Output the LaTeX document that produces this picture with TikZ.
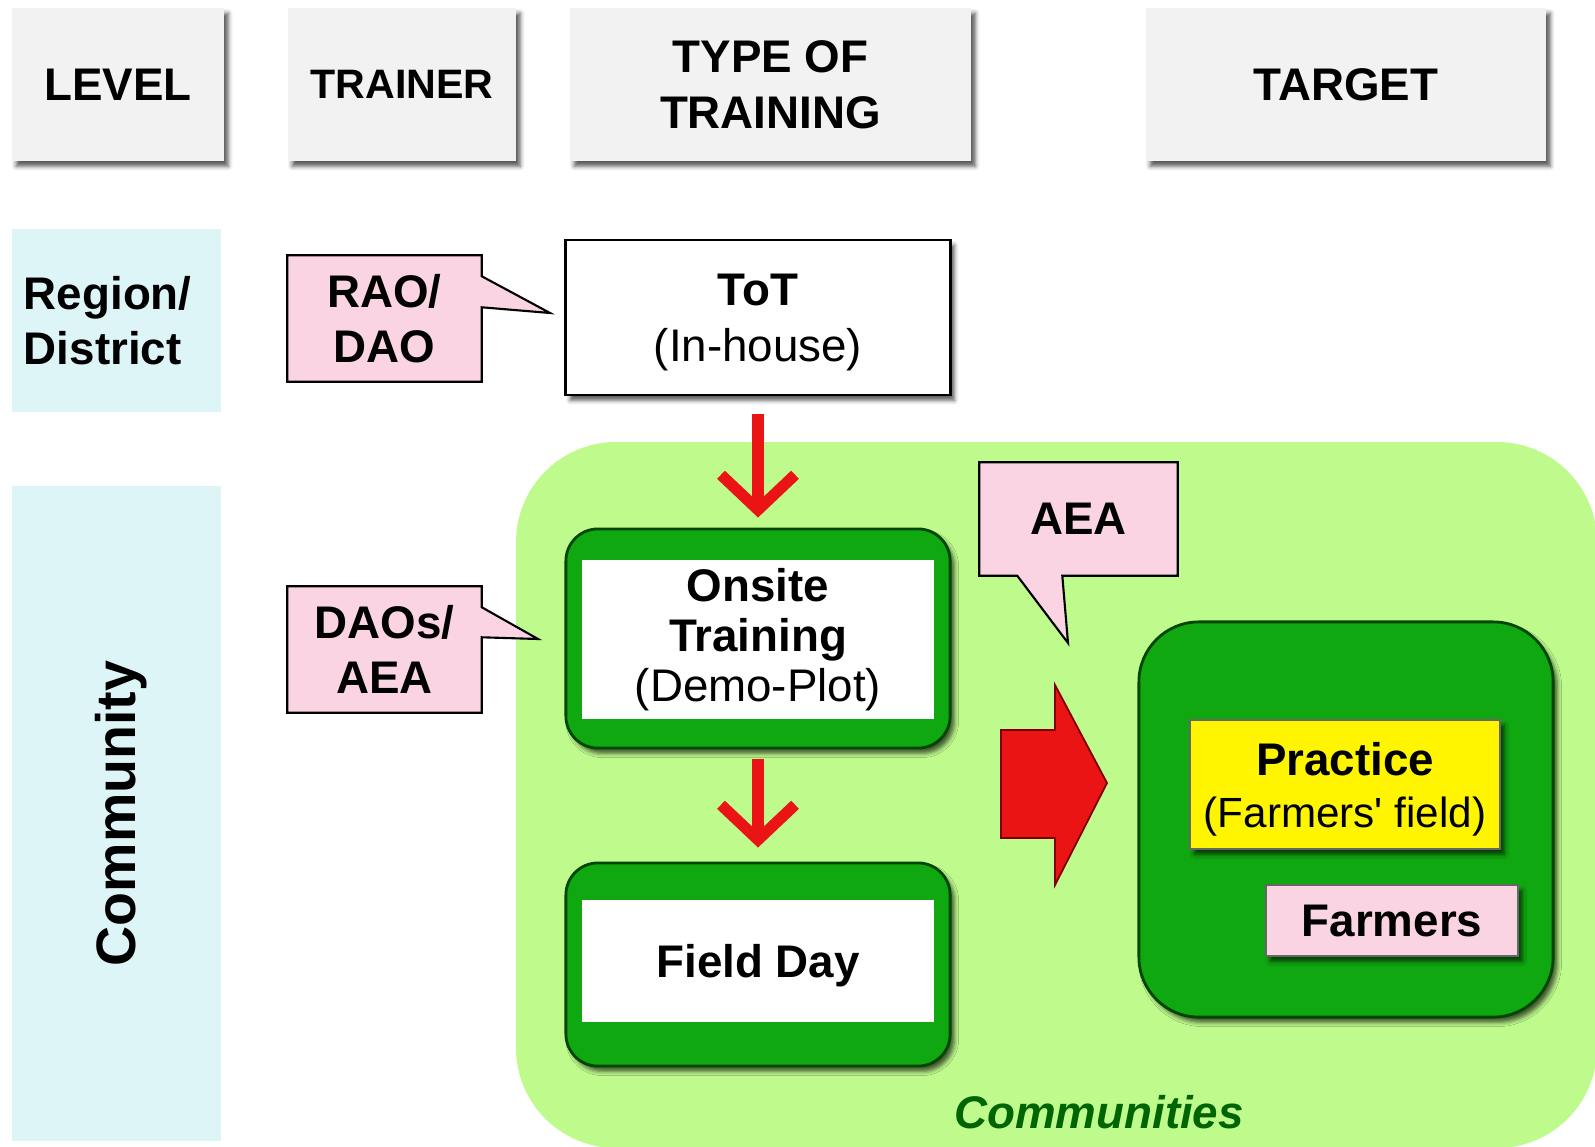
\documentclass[tikz,border=0pt]{standalone}
\usepackage{fontspec}
\setmainfont{Liberation Sans}
\usetikzlibrary{arrows.meta,shadows.blur,backgrounds}

\definecolor{headgray}{RGB}{242,242,242}
\definecolor{levelcyan}{RGB}{222,245,248}
\definecolor{calloutpink}{RGB}{250,212,226}
\definecolor{fieldgreen}{RGB}{190,250,140}
\definecolor{boxgreen}{RGB}{16,168,16}
\definecolor{edgegreen}{RGB}{0,70,0}
\definecolor{textgreen}{RGB}{0,100,0}
\definecolor{practiceyellow}{RGB}{255,245,0}
\definecolor{arrowred}{RGB}{235,20,20}

\tikzset{
  every node/.style={font=\fontsize{13}{15.5}\selectfont\bfseries, inner sep=0pt, align=center},
  softshadow/.style={blur shadow={shadow xshift=1.2pt, shadow yshift=-1.5pt, shadow blur radius=1.2pt, shadow opacity=65}},
  header/.style={fill=headgray, softshadow},
  levelbox/.style={fill=levelcyan},
  calloutline/.style={fill=calloutpink, draw=black, line width=0.6pt, line join=miter},
  totbox/.style={draw, fill=white, line width=0.8pt, softshadow},
  greenbox/.style={fill=boxgreen, draw=edgegreen, line width=0.8pt, rounded corners=0.32cm, softshadow},
  innerbox/.style={fill=white},
  flowarrow/.style={arrowred, line width=3.2pt, -{Straight Barb[length=3.5mm,width=7.4mm]}},
}

\begin{document}
\begin{tikzpicture}[x=0.01cm, y=-0.01cm]
  \useasboundingbox (0,0) rectangle (1595,1146);

  % column headings
  \node[header, minimum width=2.12cm, minimum height=1.53cm] (levelhead) at (118,84.5) {LEVEL};
  \node[header, minimum width=2.28cm, minimum height=1.53cm, font=\fontsize{11.7}{14}\selectfont\bfseries] (trainerhead) at (402,84.5) {TRAINER};
  \node[header, minimum width=4.01cm, minimum height=1.53cm, font=\fontsize{13}{16}\selectfont\bfseries] (typehead) at (770.5,84.5) {TYPE OF\\TRAINING};
  \node[header, minimum width=4.00cm, minimum height=1.53cm] (targethead) at (1346,84.5) {TARGET};

  % levels
  \node[levelbox, minimum width=2.09cm, minimum height=1.83cm, text width=1.85cm, align=left] (region) at (116.5,320.5) {Region/\\District};
  \node[levelbox, minimum width=2.09cm, minimum height=6.55cm] (community) at (116.5,813.5) {};
  \node[rotate=90, font=\fontsize{15.8}{18}\selectfont\bfseries] (communitytext) at ([xshift=0.05cm]community.center) {Community};

  % trainers
  \node[minimum width=1.93cm, minimum height=1.25cm] (rao) at (384.5,318.5) {RAO/\\DAO};
  \coordinate (raotip) at (550,313);
  \node[minimum width=1.93cm, minimum height=1.25cm] (daos) at (384.5,649.5) {DAOs/\\AEA};
  \coordinate (daostip) at (538,639);
  \node[minimum width=1.97cm, minimum height=1.12cm] (aea) at (1078.5,519) {AEA};
  \coordinate (aeatip) at (1068,643);

  % trainings
  \node[totbox, minimum width=3.84cm, minimum height=1.55cm, text depth=0pt, font=\fontsize{13}{16}\selectfont\bfseries] (tot) at (758,317.5) {ToT\\{\mdseries (In-house)}};

  \node[greenbox, minimum width=3.84cm, minimum height=2.19cm] (onsite) at (758,638.5) {};
  \node[innerbox, minimum width=3.51cm, minimum height=1.59cm, font=\fontsize{13}{14.3}\selectfont\bfseries] (onsitetext) at (758,639.5) {Onsite\\Training\\{\mdseries (Demo-Plot)}};

  \node[greenbox, minimum width=3.84cm, minimum height=2.03cm] (fieldday) at (758,964.5) {};
  \node[innerbox, minimum width=3.51cm, minimum height=1.22cm, text depth=0pt] (fielddaytext) at (758,961) {Field Day};

  % target
  \node[greenbox, rounded corners=0.6cm, minimum width=4.14cm, minimum height=3.95cm] (practice) at (1346,819.5) {};
  \node[fill=practiceyellow, draw=black!60, line width=0.4pt, softshadow, minimum width=3.10cm, minimum height=1.29cm, text depth=0pt, font=\fontsize{13}{14.8}\selectfont\bfseries] (practicetext) at (1345,784.5) {Practice\\{\mdseries\fontsize{12}{14}\selectfont (Farmers\textquotesingle{} field)}};
  \node[fill=calloutpink, draw=black!60, line width=0.4pt, softshadow, minimum width=2.52cm, minimum height=0.71cm] (farmers) at (1392,920.5) {Farmers};

  \node[text=textgreen, font=\fontsize{13}{15}\selectfont\bfseries\itshape] (communities) at (1099,1112) {Communities};

  \filldraw[fill=arrowred, draw=red!50!black, line width=0.5pt, line join=miter]
    (1001,730) -- (1055,730) -- (1055,685) -- (1107,783) -- (1055,885) -- (1055,838) -- (1001,838) -- cycle;

  \draw[flowarrow, shorten <=0.18cm, shorten >=0.1cm] (tot) -- (onsite);
  \draw[flowarrow, shorten <=0.1cm, shorten >=0.14cm] (onsite) -- (fieldday);

  \begin{scope}[on background layer]
    \fill[fieldgreen, rounded corners=1cm] (516,442) rectangle (1597,1148);

    \path[calloutline] (rao.north west) -- (rao.north east) -- ([yshift=-0.21cm]rao.north east)
      -- (raotip) -- ([yshift=-0.52cm]rao.north east) -- (rao.south east) -- (rao.south west) -- cycle;
    \path[calloutline] (daos.north west) -- (daos.north east) -- ([yshift=-0.21cm]daos.north east)
      -- (daostip) -- ([yshift=-0.51cm]daos.north east) -- (daos.south east) -- (daos.south west) -- cycle;
    \path[calloutline] (aea.north west) -- (aea.north east) -- (aea.south east) -- ([xshift=0.83cm]aea.south west)
      -- (aeatip) -- ([xshift=0.38cm]aea.south west) -- (aea.south west) -- cycle;
  \end{scope}
\end{tikzpicture}
\end{document}
